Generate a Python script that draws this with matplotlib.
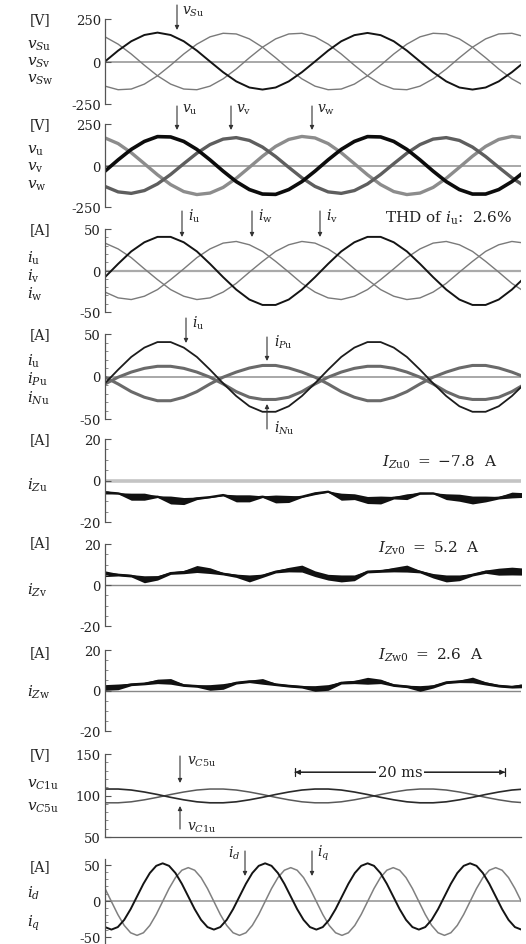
import numpy as np
import matplotlib
matplotlib.use('Agg')
import matplotlib.pyplot as plt
from matplotlib.ticker import MultipleLocator

plt.rcParams['font.family'] = ['DejaVu Serif']
plt.rcParams['mathtext.fontset'] = 'dejavuserif'
plt.rcParams['axes.unicode_minus'] = False

# ---------------- data ----------------
t50 = np.arange(33) * 1.25          # ms, sample instants of 50 Hz traces
t_dq = np.arange(66) * 0.61         # ms, sample instants of id / iq

vSu = [0, 64, 119, 156, 170, 156, 119, 64, 0, -63, -117, -153, -165, -153, -117, -63,
       0, 64, 119, 155, 168, 155, 119, 64, 0, -63, -117, -153, -165, -153, -117, -63, 0]
vSv = [-145, -166, -162, -133, -84, -22, 44, 102, 145, 166, 162, 133, 84, 22, -44, -102,
       -145, -166, -162, -133, -84, -22, 44, 102, 145, 166, 162, 133, 84, 22, -44, -102, -145]
vSw = [145, 102, 44, -22, -84, -133, -162, -166, -145, -102, -44, 22, 84, 133, 162, 166,
       145, 102, 44, -22, -84, -133, -162, -166, -145, -102, -44, 22, 84, 133, 162, 166, 145]

vu = [-34, 34, 97, 145, 174, 172, 145, 97, 34, -34, -97, -145, -172, -174, -145, -97,
      -34, 34, 97, 145, 174, 172, 145, 97, 34, -34, -97, -145, -172, -172, -145, -97, -34]
vv = [-126, -159, -168, -151, -111, -54, 11, 74, 126, 159, 168, 151, 111, 54, -11, -74,
      -126, -159, -168, -151, -111, -54, 11, 74, 126, 159, 168, 151, 111, 54, -11, -74, -126]
vw = [166, 132, 77, 11, -56, -115, -157, -175, -166, -132, -77, -11, 56, 115, 157, 175,
      166, 132, 77, 11, -56, -115, -157, -175, -166, -132, -77, -11, 56, 115, 157, 175, 166]

iu = [-8, 8, 23, 34, 40.5, 40.5, 34, 23, 8, -8, -23, -35, -41.5, -41.5, -35, -23,
      -8, 8, 23, 34, 40.5, 40.5, 34, 23, 8, -8, -23, -35, -41.5, -41.5, -35, -23, -8]
iv = [-26, -33, -35, -31, -23, -11, 2, 15.5, 26, 33, 35, 31, 23, 11, -2, -15.5,
      -26, -33, -35, -31, -23, -11, 2, 15.5, 26, 33, 35, 31, 23, 11, -2, -15.5, -26]
iw = [33, 26, 15.5, 2, -11, -23, -31, -35, -33, -26, -15.5, -2, 11, 23, 31, 35,
      33, 26, 15.5, 2, -11, -23, -31, -35, -33, -26, -15.5, -2, 11, 23, 31, 35, 33]

iNu = [-8.8, -0.8, 5.2, 9.6, 12, 12, 9.6, 5.2, -0.8, -8.8, -17.8, -24.4, -27, -27, -24.4, -17.8,
       -8.8, -0.8, 5.2, 9.6, 12, 12, 9.6, 5.2, -0.8, -8.8, -17.8, -24.4, -27, -27, -24.4, -17.8, -8.8]
iPu = [-0.8, -8.8, -17.8, -24.4, -28.5, -28.5, -24.4, -17.8, -8.8, -0.8, 5.2, 10, 13, 13, 10, 5.2,
       -0.8, -8.8, -17.8, -24.4, -28.5, -28.5, -24.4, -17.8, -8.8, -0.8, 5.2, 10, 13, 13, 10, 5.2, -0.8]

iZu = [-5.7, -6.2, -7.8, -7.8, -7.8, -9.4, -9.9, -8.6, -8.0, -7.0, -8.6, -8.6, -7.8, -8.9, -8.9, -7.8,
       -6.2, -5.4, -7.8, -7.8, -9.4, -9.4, -8.3, -7.8, -6.2, -6.2, -7.8, -8.3, -9.4, -8.9, -8.3, -7.0, -7.0]
iZu_spread = [0.8, 0.3, 1.7, 1.7, 0.4, 1.9, 1.7, 0.6, 0.3, 0.4, 1.7, 1.7, 0.4, 1.9, 1.7, 0.4,
              0.6, 0.3, 1.7, 1.4, 1.7, 1.9, 0.6, 1.4, 0.4, 0.3, 1.4, 1.7, 1.9, 1.4, 0.6, 1.4, 1.1]
iZv = [5.5, 5.0, 4.5, 2.8, 3.5, 5.8, 6.3, 7.8, 7.0, 5.5, 4.5, 3.2, 4.5, 6.5, 7.5, 8.0,
       5.5, 3.8, 3.2, 3.5, 6.5, 6.8, 7.5, 8.0, 6.5, 4.5, 3.2, 3.5, 5.0, 6.5, 6.5, 6.8, 6.5]
iZv_spread = [1.4, 0.6, 0.6, 1.7, 1.1, 0.6, 0.8, 1.7, 1.4, 0.6, 0.8, 1.7, 0.8, 0.6, 1.1, 1.7,
              1.4, 1.4, 1.7, 1.4, 0.6, 0.6, 1.1, 1.7, 0.6, 1.1, 1.7, 1.4, 0.6, 0.8, 1.7, 1.9, 1.7]
iZw = [1.5, 1.8, 3.0, 3.4, 4.5, 4.5, 2.6, 2.2, 1.5, 2.0, 3.8, 4.5, 4.5, 3.0, 2.3, 1.8,
       1.0, 1.5, 3.8, 4.2, 4.8, 4.5, 2.6, 2.0, 1.0, 2.0, 4.0, 4.5, 5.2, 3.5, 2.3, 1.8, 2.5]
iZw_spread = [1.4, 1.4, 0.6, 0.6, 1.1, 1.4, 0.6, 0.6, 1.4, 1.4, 0.6, 0.6, 1.4, 0.6, 0.6, 0.6,
              1.4, 1.4, 0.6, 0.8, 1.7, 1.1, 0.6, 0.6, 1.4, 0.8, 0.6, 0.6, 1.4, 0.8, 0.6, 0.6, 1.1]

vC1u = [107.8, 107.8, 106.6, 104.2, 101.2, 97.8, 94.8, 92.4, 91.2, 91.2, 92.4, 94.8, 97.8, 101.2, 104.2, 106.6,
        107.8, 107.8, 106.6, 104.2, 101.2, 97.8, 94.8, 92.4, 91.2, 91.2, 92.4, 94.8, 97.8, 101.2, 104.2, 106.6, 107.8]
vC5u = [91.2, 91.2, 92.4, 94.8, 97.8, 101.2, 104.2, 106.6, 107.8, 107.8, 106.6, 104.2, 101.2, 97.8, 94.8, 92.4,
        91.2, 91.2, 92.4, 94.8, 97.8, 101.2, 104.2, 106.6, 107.8, 107.8, 106.6, 104.2, 101.2, 97.8, 94.8, 92.4, 91.2]

id_ = [-36.5, -40, -36.5, -26.5, -11.6, 6, 23.6, 38.5, 48.5, 52, 48.5, 38.5, 23.6, 6, -11.6, -26.5,
       -36.5, -40, -36.5, -26.5, -11.6, 6, 23.6, 38.5, 48.5, 52, 48.5, 38.5, 23.6, 6, -11.6, -26.5,
       -36.5, -40, -36.5, -26.5, -11.6, 6, 23.6, 38.5, 48.5, 52, 48.5, 38.5, 23.6, 6, -11.6, -26.5,
       -36.5, -40, -36.5, -26.5, -11.6, 6, 23.6, 38.5, 48.5, 52, 48.5, 38.5, 23.6, 6, -11.6, -26.5,
       -36.5, -40]
iq = [17, -1, -19, -34.2, -44.4, -48, -44.4, -34.2, -19, -1, 17, 32.2, 42.4, 46, 42.4, 32.2,
      17, -1, -19, -34.2, -44.4, -48, -44.4, -34.2, -19, -1, 17, 32.2, 42.4, 46, 42.4, 32.2,
      17, -1, -19, -34.2, -44.4, -48, -44.4, -34.2, -19, -1, 17, 32.2, 42.4, 46, 42.4, 32.2,
      17, -1, -19, -34.2, -44.4, -48, -44.4, -34.2, -19, -1, 17, 32.2, 42.4, 46, 42.4, 32.2,
      17, -1]

THD_iu = 2.6
IZu0, IZv0, IZw0 = -7.8, 5.2, 2.6
scale_bar_ms = 20
scale_bar_start = 18.1

# ---------------- layout ----------------
W, H = 526, 945
fig = plt.figure(figsize=(W / 100, H / 100), dpi=100)
X0, X1 = 105, 521
T_MAX = (X1 - X0) / 10.5
TXT = '#222222'
LAB = 11
ALAB = 10


def make_ax(top, bottom, ylim, major, minor=None, bottom_spine=False):
    ax = fig.add_axes([X0 / W, 1 - bottom / H, (X1 - X0) / W, (bottom - top) / H])
    ax.set_xlim(0, T_MAX)
    ax.set_ylim(*ylim)
    for s in ['top', 'right', 'bottom']:
        ax.spines[s].set_visible(False)
    ax.spines['left'].set_color('#555555')
    ax.spines['left'].set_linewidth(0.9)
    if bottom_spine:
        ax.spines['bottom'].set_visible(True)
        ax.spines['bottom'].set_color('#555555')
        ax.spines['bottom'].set_linewidth(0.9)
    ax.set_xticks([])
    ax.yaxis.set_major_locator(MultipleLocator(major))
    if minor:
        ax.yaxis.set_minor_locator(MultipleLocator(minor))
    ax.tick_params(axis='y', which='major', direction='in', length=4, width=0.8,
                   color='#555555', labelsize=9.5, labelcolor=TXT, pad=3)
    ax.tick_params(axis='y', which='minor', direction='in', length=2.5, width=0.6, color='#777777')
    ax.patch.set_alpha(0)
    return ax


def ftext(x, y, s, **kw):
    kw.setdefault('fontsize', LAB)
    kw.setdefault('color', TXT)
    kw.setdefault('ha', 'left')
    kw.setdefault('va', 'center')
    fig.text(x / W, 1 - y / H, s, **kw)


def arrow(ax, x, y_tail, y_tip):
    ax.annotate('', xy=(x, H - y_tip), xytext=(x, H - y_tail), xycoords='figure pixels',
                textcoords='figure pixels', annotation_clip=False,
                arrowprops=dict(arrowstyle='-|>', color='#333333', lw=0.8,
                                mutation_scale=6, shrinkA=0, shrinkB=0))


def zero(ax, color='#999999', lw=1.2):
    ax.axhline(0, color=color, lw=lw, zorder=1)


BLK = '#141414'
GRY = '#7a7a7a'

# Panel 1
ax1 = make_ax(20, 105, (-250, 250), 250)
zero(ax1)
ax1.plot(t50, vSv, color=GRY, lw=1.0)
ax1.plot(t50, vSw, color=GRY, lw=1.0)
ax1.plot(t50, vSu, color=BLK, lw=1.4)
ftext(40, 20, '[V]', ha='center', fontsize=10)
ftext(27, 46, r'$v_{S\mathrm{u}}$')
ftext(27, 63, r'$v_{S\mathrm{v}}$')
ftext(27, 80, r'$v_{S\mathrm{w}}$')
arrow(ax1, 177, 6, 31)
ftext(182, 12, r'$v_{S\mathrm{u}}$', fontsize=ALAB)

# Panel 2
ax2 = make_ax(125, 208, (-250, 250), 250)
zero(ax2)
ax2.plot(t50, vw, color='#8c8c8c', lw=2.4)
ax2.plot(t50, vv, color='#5e5e5e', lw=2.4)
ax2.plot(t50, vu, color='#0c0c0c', lw=2.6)
ftext(40, 125, '[V]', ha='center', fontsize=10)
ftext(27, 151, r'$v_{\mathrm{u}}$')
ftext(27, 168, r'$v_{\mathrm{v}}$')
ftext(27, 186, r'$v_{\mathrm{w}}$')
for xa, lab in [(177, r'$v_{\mathrm{u}}$'), (231, r'$v_{\mathrm{v}}$'), (312, r'$v_{\mathrm{w}}$')]:
    arrow(ax2, xa, 107, 131)
    ftext(xa + 5, 110, lab, fontsize=ALAB)

# Panel 3
ax3 = make_ax(230, 313, (-50, 50), 50, 10)
zero(ax3, '#aaaaaa', 1.6)
ax3.plot(t50, iv, color=GRY, lw=1.0)
ax3.plot(t50, iw, color=GRY, lw=1.0)
ax3.plot(t50, iu, color=BLK, lw=1.4)
ftext(40, 230, '[A]', ha='center', fontsize=10)
ftext(27, 258, r'$i_{\mathrm{u}}$')
ftext(27, 276, r'$i_{\mathrm{v}}$')
ftext(27, 294, r'$i_{\mathrm{w}}$')
for xa, lab in [(182, r'$i_{\mathrm{u}}$'), (252, r'$i_{\mathrm{w}}$'), (320, r'$i_{\mathrm{v}}$')]:
    arrow(ax3, xa, 212, 238)
    ftext(xa + 6, 216, lab, fontsize=ALAB)
ftext(512, 218, r'THD of $i_{\mathrm{u}}$:  ' + f'{THD_iu}%', ha='right', fontsize=11)

# Panel 4
ax4 = make_ax(335, 420, (-50, 50), 50, 10)
zero(ax4, '#999999', 1.2)
ax4.plot(t50, iPu, color='#6a6a6a', lw=2.2)
ax4.plot(t50, iNu, color='#6a6a6a', lw=2.2)
ax4.plot(t50, iu, color='#1c1c1c', lw=1.3)
ftext(40, 335, '[A]', ha='center', fontsize=10)
ftext(27, 361, r'$i_{\mathrm{u}}$')
ftext(27, 379, r'$i_{P\mathrm{u}}$')
ftext(27, 398, r'$i_{N\mathrm{u}}$')
arrow(ax4, 186, 319, 344)
ftext(192, 323, r'$i_{\mathrm{u}}$', fontsize=ALAB)
arrow(ax4, 267, 338, 362)
ftext(274, 342, r'$i_{P\mathrm{u}}$', fontsize=ALAB)
arrow(ax4, 267, 430, 405)
ftext(274, 428, r'$i_{N\mathrm{u}}$', fontsize=ALAB)

# Panels 5-7 (circulating currents)
zc_specs = [
    (440, 523, iZu, iZu_spread, r'$i_{Z\mathrm{u}}$', 485, 440, r'$I_{Z\mathrm{u0}}\ =\ {%s}\ \ \mathrm{A}$' % IZu0, 497, 462, '#c4c4c4', 2.6),
    (545, 627, iZv, iZv_spread, r'$i_{Z\mathrm{v}}$', 590, 543, r'$I_{Z\mathrm{v0}}\ =\ {%s}\ \ \mathrm{A}$' % IZv0, 480, 548, '#888888', 1.0),
    (651, 732, iZw, iZw_spread, r'$i_{Z\mathrm{w}}$', 692, 653, r'$I_{Z\mathrm{w0}}\ =\ {%s}\ \ \mathrm{A}$' % IZw0, 483, 655, '#888888', 1.0),
]
for top, bot, mid, spr, lab, ly, uy, txt, tx, ty, zcol, zlw in zc_specs:
    ax = make_ax(top, bot, (-20, 20), 20, 5)
    zero(ax, zcol, zlw)
    mid = np.asarray(mid)
    spr = np.asarray(spr)
    ax.fill_between(t50, mid - spr, mid + spr, color='#111111', lw=0)
    ax.plot(t50, mid, color='#111111', lw=1.6)
    ftext(40, uy, '[A]', ha='center', fontsize=10)
    ftext(27, ly, lab)
    ftext(tx, ty, txt, ha='right', fontsize=11)

# Panel 8
ax8 = make_ax(755, 838, (50, 150), 50, 10, bottom_spine=True)
ax8.plot(t50, vC5u, color='#5a5a5a', lw=1.1)
ax8.plot(t50, vC1u, color='#2a2a2a', lw=1.2)
ftext(40, 755, '[V]', ha='center', fontsize=10)
ftext(27, 785, r'$v_{C1\mathrm{u}}$')
ftext(27, 808, r'$v_{C5\mathrm{u}}$')
arrow(ax8, 180, 757, 784)
ftext(187, 762, r'$v_{C5\mathrm{u}}$', fontsize=ALAB)
arrow(ax8, 180, 830, 807)
ftext(187, 828, r'$v_{C1\mathrm{u}}$', fontsize=ALAB)
y_bar = 128
ax8.annotate('', xy=(scale_bar_start, y_bar), xytext=(scale_bar_start + scale_bar_ms, y_bar),
             arrowprops=dict(arrowstyle='|-|', color='#222222', lw=0.9, mutation_scale=3,
                             shrinkA=0, shrinkB=0))
ax8.annotate('', xy=(scale_bar_start, y_bar), xytext=(scale_bar_start + scale_bar_ms, y_bar),
             arrowprops=dict(arrowstyle='<|-|>', color='#222222', lw=0.9, mutation_scale=7,
                             shrinkA=0, shrinkB=0))
ax8.text(scale_bar_start + scale_bar_ms / 2, y_bar, f'{scale_bar_ms} ms', ha='center', va='center',
         fontsize=10.5, color=TXT, bbox=dict(facecolor='white', edgecolor='none', pad=1.5))

# Panel 9
ax9 = make_ax(860, 945, (-60, 58), 50, 10)
zero(ax9, '#999999', 1.2)
ax9.plot(t_dq, iq, color='#808080', lw=1.1)
ax9.plot(t_dq, id_, color='#141414', lw=1.4)
ftext(40, 867, '[A]', ha='center', fontsize=10)
ftext(27, 893, r'$i_{d}$')
ftext(27, 923, r'$i_{q}$')
arrow(ax9, 245, 852, 877)
ftext(240, 853, r'$i_{d}$', ha='right', fontsize=ALAB)
arrow(ax9, 312, 852, 877)
ftext(317, 853, r'$i_{q}$', fontsize=ALAB)

fig.savefig('out.png', dpi=100, facecolor='white')
